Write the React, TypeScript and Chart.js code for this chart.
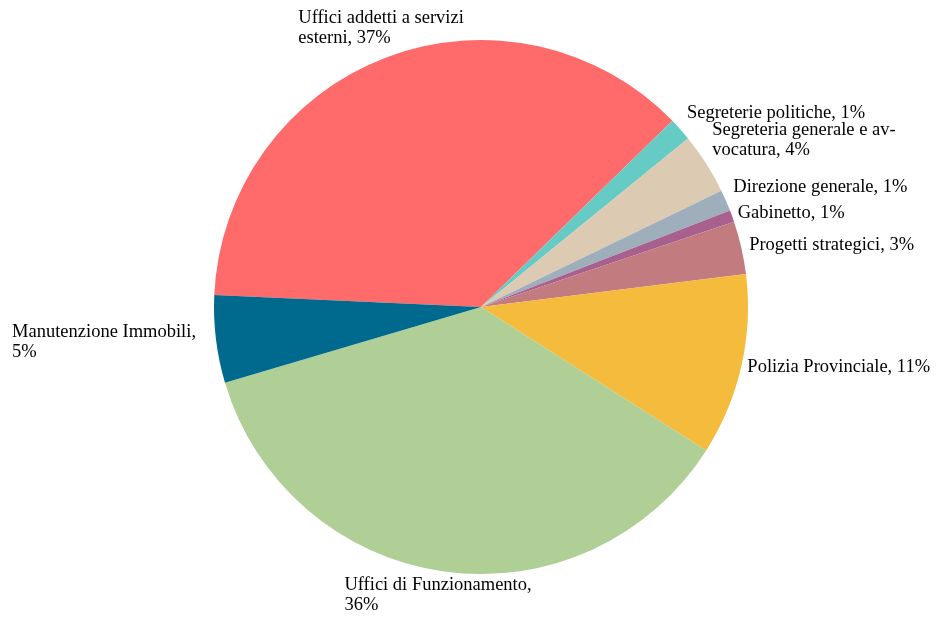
import React, { useEffect, useRef } from "react";
import { Chart, registerables } from "chart.js";

Chart.register(...registerables);

const categories: string[] = [
  "Uffici addetti a servizi\nesterni",
  "Segreterie politiche",
  "Segreteria generale e av-\nvocatura",
  "Direzione generale",
  "Gabinetto",
  "Progetti strategici",
  "Polizia Provinciale",
  "Uffici di Funzionamento,\n",
  "Manutenzione Immobili,\n",
];

const values: number[] = [37.0, 1.4, 3.7, 1.3, 0.7, 3.2, 11.0, 36.4, 5.3];

const colors: string[] = [
  "#FF6B6B",
  "#67CBC5",
  "#DDCAB3",
  "#9EAEBB",
  "#A8608F",
  "#C27B7E",
  "#F4BB3D",
  "#AFCF96",
  "#006A8E",
];

// small layout nudges for the outside labels [dx, dy]
const labelNudges: [number, number][] = [
  [-3, -4],
  [2, -12],
  [1, -20],
  [2, -11],
  [0, -1],
  [2, -1],
  [0, 0],
  [-5, -2],
  [-14, 2],
];

const FONT_SIZE = 18.5;
const LINE_H = 20;

const labelPlugin = {
  id: "outsideLabels",
  afterDatasetsDraw(chart: any) {
    const ctx: CanvasRenderingContext2D = chart.ctx;
    const meta = chart.getDatasetMeta(0);
    const total = values.reduce((a, b) => a + b, 0);
    ctx.save();
    ctx.font = `${FONT_SIZE}px "Liberation Serif"`;
    ctx.fillStyle = "#000";
    ctx.textBaseline = "middle";
    ctx.textAlign = "left";
    meta.data.forEach((arc: any, i: number) => {
      const { x, y, startAngle, endAngle, outerRadius } = arc.getProps(
        ["x", "y", "startAngle", "endAngle", "outerRadius"],
        true
      );
      const a = (startAngle + endAngle) / 2;
      const cos = Math.cos(a);
      const sin = Math.sin(a);
      const px = x + (outerRadius + 6) * cos;
      const py = y + (outerRadius + 6) * sin;
      const pct = Math.round((values[i] / total) * 100);
      const raw = categories[i];
      const text = raw.endsWith("\n") ? raw + pct + "%" : raw + ", " + pct + "%";
      const lines = text.split("\n");
      const w = Math.max(...lines.map((l) => ctx.measureText(l).width));
      const h = lines.length * LINE_H;
      let left: number;
      let top: number;
      if (cos > 0.5) {
        left = px;
        top = py - h / 2;
      } else if (cos < -0.5) {
        left = px - w;
        top = py - h / 2;
      } else if (sin > 0) {
        left = px - w / 2;
        top = py;
      } else {
        left = px - w / 2;
        top = py - h;
      }
      left += labelNudges[i][0];
      top += labelNudges[i][1];
      lines.forEach((l, j) => ctx.fillText(l, left, top + LINE_H * (j + 0.5)));
    });
    ctx.restore();
  },
};

export default function App() {
  const canvasRef = useRef<HTMLCanvasElement | null>(null);

  useEffect(() => {
    if (!canvasRef.current) return;
    const chart = new Chart(canvasRef.current, {
      type: "pie",
      data: {
        labels: categories.map((c) => c.replace(/\n/g, " ")),
        datasets: [
          {
            data: values,
            backgroundColor: colors,
            borderWidth: 0,
            hoverOffset: 0,
            offset: 0,
          },
        ],
      },
      options: {
        animation: false,
        responsive: true,
        maintainAspectRatio: false,
        events: [],
        rotation: 272.6,
        layout: {
          padding: { left: 214, right: 191, top: 40, bottom: 49 },
        },
        plugins: {
          legend: { display: false },
          tooltip: { enabled: false },
        },
      },
      plugins: [labelPlugin],
    });
    return () => chart.destroy();
  }, []);

  return (
    <div
      style={{
        position: "absolute",
        left: 0,
        top: 0,
        width: 939,
        height: 623,
        background: "#fff",
      }}
    >
      <canvas ref={canvasRef} />
    </div>
  );
}
